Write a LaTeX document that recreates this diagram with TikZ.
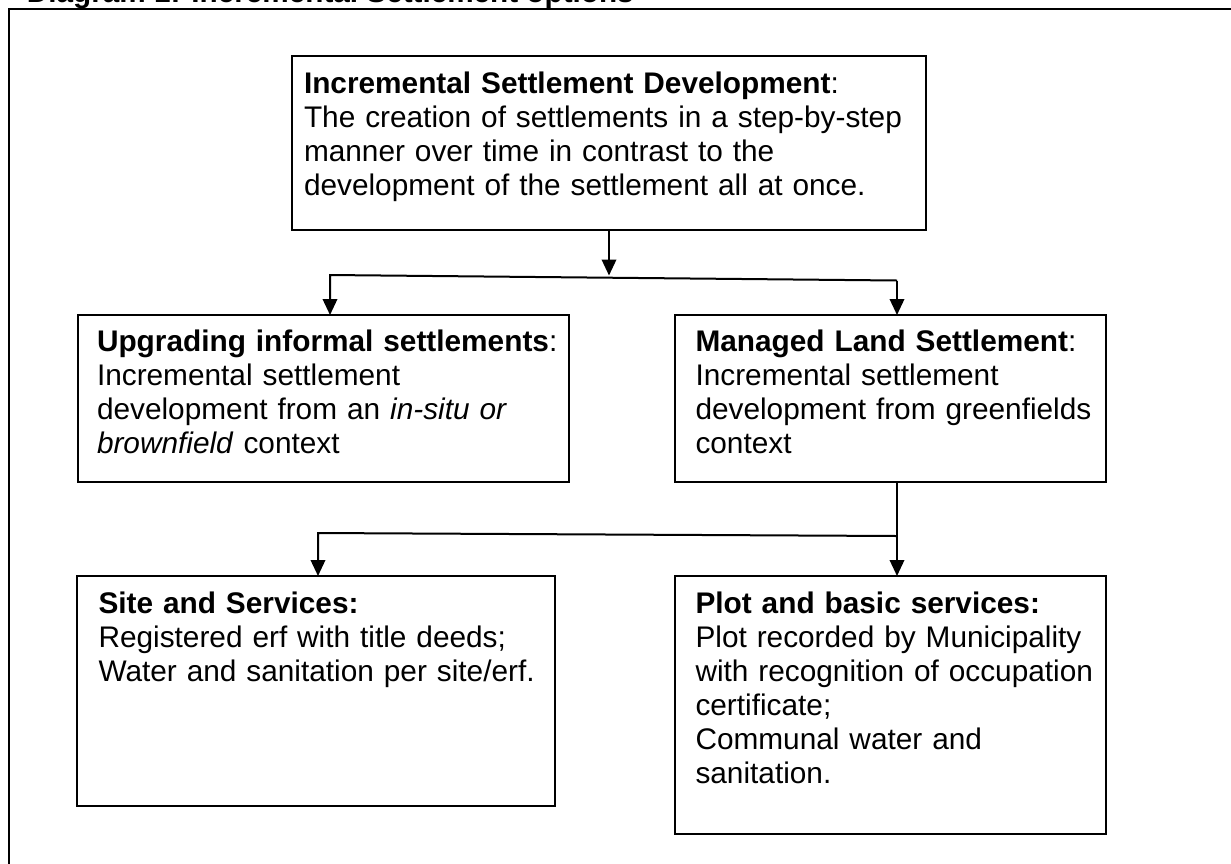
\documentclass[tikz,border=0pt]{standalone}
\usepackage{fontspec}
\setmainfont{Liberation Sans}
\usetikzlibrary{arrows.meta}
\begin{document}
\begin{tikzpicture}[x=1pt,y=-1pt,
  every node/.style={inner sep=0pt, outer sep=0pt},
  boxnode/.style={draw, line width=2pt, anchor=north west},
  boxtext/.style={anchor=north west, text width=620pt, align=left,
    font=\fontsize{29.8}{34}\selectfont},
  link/.style={line width=2pt, -{Triangle[length=16pt,width=14.5pt]}},
  frame/.style={line width=2.6pt}]
% page area
\path[use as bounding box, clip] (0,0) rectangle (1231,863);
% surrounding frame and caption
\draw[frame] (9,9) rectangle (1260,900);
\node[anchor=base west, font=\fontsize{29.7}{34}\selectfont\bfseries] (title)
  at (27,2.5) {Diagram 1: Incremental Settlement options};

% boxes
\node[boxnode, minimum width=634pt, minimum height=174pt] (top)   at (292,56)  {};
\node[boxnode, minimum width=491pt, minimum height=167pt] (left)  at (78,315)   {};
\node[boxnode, minimum width=431pt, minimum height=167pt] (right) at (675,315)  {};
\node[boxnode, minimum width=478pt, minimum height=230pt] (botL)  at (77,576)   {};
\node[boxnode, minimum width=431pt, minimum height=258pt] (botR)  at (675,576)  {};

% box texts
\node[boxtext] (topT) at (304,69.5) {\strut\textbf{Incremental Settlement Development}:\\
  The creation of settlements in a step-by-step\\
  manner over time in contrast to the\\
  development of the settlement all at once.};
\node[boxtext] (leftT) at (97,327.9) {\strut\textbf{Upgrading informal settlements}:\\
  Incremental settlement\\
  development from an \textit{in-situ or}\\
  \textit{brownfield} context};
\node[boxtext] (rightT) at (695.5,327.9) {\strut\textbf{Managed Land Settlement}:\\
  Incremental settlement\\
  development from greenfields\\
  context};
\node[boxtext] (botLT) at (98.5,590) {\strut\textbf{Site and Services:}\\
  Registered erf with title deeds;\\
  Water and sanitation per site/erf.};
\node[boxtext] (botRT) at (695.5,589.5) {\strut\textbf{Plot and basic services:}\\
  Plot recorded by Municipality\\
  with recognition of occupation\\
  certificate;\\
  Communal water and\\
  sanitation.};

% first branching
\coordinate (j1) at (609,275.5);
\coordinate (bl) at (330,275);
\coordinate (br) at (897,280.5);
\draw[link] (top.south) -- (j1);
\draw[link] (br) -- (bl) -- (bl |- left.north);
\draw[link] (br) -- (br |- right.north);

% second branching
\coordinate (k1) at (897,536);
\coordinate (k2) at (318,533);
\draw[link] (k1 |- right.south) -- (k1 |- botR.north);
\draw[link] (k1) -- (k2) -- (k2 |- botL.north);
\end{tikzpicture}
\end{document}
